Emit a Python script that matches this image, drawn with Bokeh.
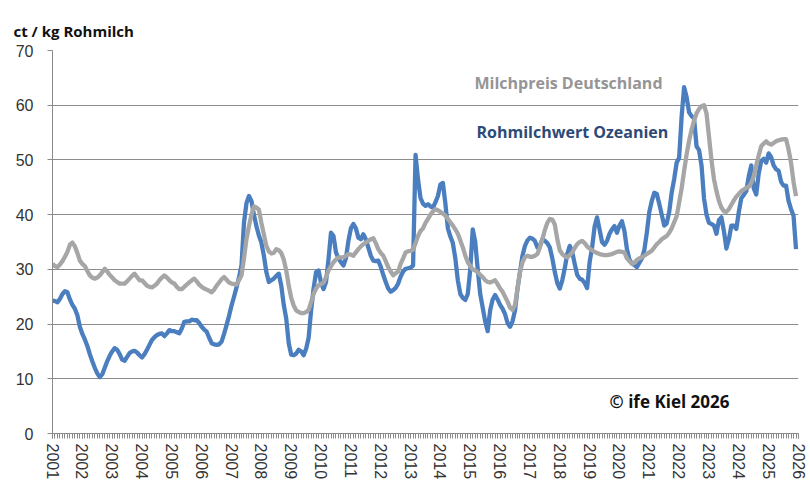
from bokeh.plotting import figure
from bokeh.models import Range1d, SingleIntervalTicker, FixedTicker, Label, ColumnDataSource, Title
from bokeh.embed import file_html
from bokeh.resources import INLINE

# monthly values, Jan 2001 .. Dec 2025 (ct / kg Rohmilch)
rohmilchwert_ozeanien = [
    24.3, 24.2, 24.0, 24.6, 25.5, 26.0, 25.8, 24.5, 23.5, 22.8, 21.6, 19.5,  # 2001
    18.2, 17.2, 16.0, 14.5, 13.2, 12.0, 11.0, 10.3, 10.8, 12.0, 13.2, 14.2,  # 2002
    15.0, 15.6, 15.3, 14.5, 13.5, 13.3, 14.0, 14.7, 15.0, 15.1, 14.8, 14.3,  # 2003
    13.9, 14.5, 15.3, 16.2, 17.1, 17.6, 18.0, 18.2, 18.3, 17.8, 18.3, 18.9,  # 2004
    18.7, 18.7, 18.5, 18.3, 19.2, 20.4, 20.5, 20.5, 20.8, 20.7, 20.7, 20.2,  # 2005
    19.5, 19.0, 18.6, 17.5, 16.5, 16.3, 16.2, 16.3, 16.8, 18.2, 19.8, 21.5,  # 2006
    23.4, 25.0, 26.7, 28.5, 30.7, 38.5, 42.1, 43.4, 42.5, 40.0, 37.9, 36.2,  # 2007
    34.9, 32.5, 29.5, 27.7, 28.0, 28.3, 28.8, 29.2, 27.0, 23.5, 21.0, 16.5,  # 2008
    14.4, 14.3, 14.6, 15.3, 15.0, 14.3, 15.5, 17.5, 22.5, 26.5, 29.5, 29.8,  # 2009
    27.5, 26.4, 27.7, 31.9, 36.7, 36.1, 33.1, 32.0, 31.3, 30.7, 32.0, 35.2,  # 2010
    37.5, 38.3, 37.5, 35.8, 35.5, 36.4, 35.5, 34.0, 32.5, 31.6, 31.5, 31.6,  # 2011
    30.5, 29.0, 27.7, 26.5, 25.9, 26.2, 26.6, 27.4, 28.7, 29.6, 30.1, 30.2,  # 2012
    30.3, 30.7, 50.9, 46.4, 43.0, 42.0, 41.6, 41.9, 41.5, 41.3, 42.3, 43.4,  # 2013
    45.5, 45.8, 42.0, 37.5, 36.0, 34.8, 32.0, 28.0, 25.5, 24.8, 24.4, 25.5,  # 2014
    30.0, 37.3, 35.0, 30.0, 25.5, 23.0, 20.5, 18.7, 22.5, 24.5, 25.3, 24.5,  # 2015
    23.5, 22.8, 21.8, 20.2, 19.5, 20.5, 22.5, 26.5, 29.5, 32.5, 34.3, 35.3,  # 2016
    35.8, 35.6, 35.2, 34.0, 34.3, 35.5, 35.2, 34.8, 34.0, 32.0, 29.5, 27.5,  # 2017
    26.5, 28.0, 30.2, 32.8, 34.3, 33.2, 31.0, 29.0, 28.3, 28.1, 27.5, 26.6,  # 2018
    31.3, 34.0, 37.8, 39.5, 37.3, 35.0, 34.5, 35.2, 36.5, 37.3, 37.9, 36.7,  # 2019
    38.0, 38.8, 37.0, 33.7, 31.8, 31.1, 30.8, 30.4, 31.2, 32.0, 33.5, 36.7,  # 2020
    40.5, 42.5, 44.0, 43.8, 42.0, 40.0, 38.0, 38.4, 40.5, 44.0, 46.5, 49.5,  # 2021
    50.4, 57.9, 63.3, 61.5, 58.7, 58.0, 57.6, 52.5, 51.8, 49.0, 43.0, 40.0,  # 2022
    38.5, 38.3, 38.0, 36.5, 39.0, 39.5, 37.0, 33.8, 35.5, 38.0, 38.0, 37.4,  # 2023
    40.5, 43.0, 43.6, 44.3, 47.0, 49.0, 44.8, 43.7, 47.5, 49.8, 50.2, 49.5,  # 2024
    51.2, 50.5, 49.0, 48.3, 48.0, 46.0, 45.3, 45.3, 42.5, 41.0, 39.8, 33.7,  # 2025
]

milchpreis_deutschland = [
    31.0, 30.6, 30.4, 30.9, 31.5, 32.3, 33.2, 34.5, 34.9, 34.2, 33.0, 31.6,  # 2001
    31.0, 30.6, 29.7, 28.9, 28.5, 28.3, 28.5, 28.9, 29.5, 30.1, 29.6, 29.0,  # 2002
    28.5, 28.0, 27.7, 27.4, 27.4, 27.4, 27.8, 28.3, 28.8, 29.2, 28.6, 28.0,  # 2003
    28.0, 27.5, 27.0, 26.8, 26.7, 27.0, 27.4, 28.0, 28.5, 28.9, 28.5, 28.0,  # 2004
    27.6, 27.4, 26.8, 26.4, 26.4, 26.8, 27.2, 27.6, 28.0, 28.3, 27.8, 27.2,  # 2005
    26.8, 26.5, 26.3, 26.1, 25.8, 26.3, 27.0, 27.6, 28.2, 28.6, 28.1, 27.6,  # 2006
    27.4, 27.3, 27.2, 28.0, 28.9, 32.0, 35.5, 37.9, 40.0, 41.5, 41.3, 40.9,  # 2007
    38.5, 36.4, 34.3, 33.3, 32.9, 33.0, 33.7, 33.5, 33.0, 31.8, 29.8, 27.0,  # 2008
    24.8, 23.4, 22.5, 22.2, 22.0, 22.0, 22.2, 22.6, 24.0, 25.5, 26.5, 27.1,  # 2009
    27.3, 27.6, 28.6, 29.8, 30.6, 31.3, 31.8, 32.2, 32.2, 32.2, 32.5, 32.8,  # 2010
    32.7, 32.5, 33.1, 33.7, 34.2, 34.6, 34.9, 35.2, 35.5, 35.7, 34.8, 33.7,  # 2011
    33.0, 32.5, 31.5, 30.4, 29.6, 28.9, 29.3, 29.6, 31.0, 32.0, 33.1, 33.3,  # 2012
    33.4, 33.6, 34.8, 36.1, 37.0, 37.5, 38.5, 39.2, 40.0, 40.6, 41.0, 40.8,  # 2013
    40.5, 40.2, 39.8, 39.2, 38.6, 38.0, 37.3, 36.5, 35.3, 34.0, 32.5, 31.3,  # 2014
    30.6, 30.0, 29.8, 29.5, 29.0, 28.6, 28.0, 27.7, 27.6, 27.8, 28.0, 27.3,  # 2015
    26.5, 25.9, 25.0, 24.1, 23.0, 22.6, 23.5, 26.5, 29.5, 31.3, 32.2, 32.5,  # 2016
    32.3, 32.3, 32.5, 32.8, 34.0, 35.5, 37.2, 38.5, 39.2, 39.1, 38.2, 35.5,  # 2017
    33.5, 32.8, 32.4, 32.2, 32.6, 33.1, 33.9, 34.6, 35.0, 35.2, 34.8, 34.2,  # 2018
    33.8, 33.5, 33.2, 33.0, 32.8, 32.7, 32.6, 32.6, 32.7, 32.8, 33.0, 33.2,  # 2019
    33.3, 33.2, 33.1, 32.0, 31.5, 31.0, 31.2, 31.7, 32.0, 32.2, 32.5, 32.8,  # 2020
    33.1, 33.4, 34.0, 34.6, 35.0, 35.5, 35.8, 36.1, 36.7, 37.5, 38.6, 39.7,  # 2021
    42.2, 44.8, 48.0, 51.0, 53.5, 55.5, 57.2, 58.5, 59.3, 59.8, 60.0, 58.5,  # 2022
    54.3, 50.0, 46.5, 44.3, 42.5, 41.3, 40.6, 40.5, 41.0, 41.8, 42.6, 43.3,  # 2023
    43.8, 44.3, 44.6, 44.9, 45.1, 45.8, 47.0, 49.0, 50.8, 52.5, 53.0, 53.4,  # 2024
    53.0, 52.8, 53.1, 53.4, 53.6, 53.7, 53.8, 53.8, 51.9, 49.5, 46.0, 43.4,  # 2025
]

start_year = 2001
end_year = 2026
y_ticks = [0, 10, 20, 30, 40, 50, 60, 70]

months = [start_year + i / 12 for i in range(len(rohmilchwert_ozeanien))]
src = ColumnDataSource(dict(t=months, oz=rohmilchwert_ozeanien, de=milchpreis_deutschland))

p = figure(width=808, height=482, output_backend="svg", toolbar_location=None,
           x_range=Range1d(start_year, end_year), y_range=Range1d(0, 70),
           min_border_left=52, min_border_right=10, min_border_top=50, min_border_bottom=46)
p.outline_line_color = None
p.background_fill_color = "white"
p.border_fill_color = "white"

p.title = Title(text="ct / kg Rohmilch", align="left", offset=-39, standoff=19,
                text_font="Open Sans", text_font_style="bold", text_font_size="15px",
                text_color="#111111")

p.line("t", "oz", source=src, line_color="#4a7ebf", line_width=4.3, line_join="round")
p.line("t", "de", source=src, line_color="#a6a6a6", line_width=4.3, line_join="round")

# axes
xa = p.xaxis[0]
xa.ticker = SingleIntervalTicker(interval=1, num_minor_ticks=12)
xa.major_label_orientation = "vertical"
xa.major_label_text_font = "Liberation Sans"
xa.major_label_text_font_size = "16px"
xa.major_label_text_color = "#333333"
xa.major_label_standoff = 5
xa.axis_line_color = "#8a8a8a"
xa.major_tick_line_color = "#8a8a8a"
xa.minor_tick_line_color = "#8a8a8a"
xa.major_tick_in = 0
xa.major_tick_out = 5
xa.minor_tick_in = 0
xa.minor_tick_out = 5

ya = p.yaxis[0]
ya.ticker = FixedTicker(ticks=y_ticks)
ya.major_label_text_font = "Liberation Sans"
ya.major_label_text_font_size = "16px"
ya.major_label_text_color = "#333333"
ya.major_label_standoff = 14
ya.axis_line_color = "#8a8a8a"
ya.major_tick_line_color = "#8a8a8a"
ya.major_tick_in = 0
ya.major_tick_out = 5
ya.minor_tick_line_color = None

p.xgrid.grid_line_color = None
p.ygrid.ticker = FixedTicker(ticks=y_ticks)
p.ygrid.grid_line_color = "#8c8c8c"
p.ygrid.grid_line_width = 1

# texts inside the chart
p.add_layout(Label(x=2015.14, y=64.0, text="Milchpreis Deutschland", text_font="Open Sans",
                   text_font_style="bold", text_font_size="16px", text_color="#959595",
                   text_baseline="middle", text_align="left"))
p.add_layout(Label(x=2015.21, y=55.1, text="Rohmilchwert Ozeanien", text_font="Open Sans",
                   text_font_style="bold", text_font_size="16px", text_color="#2c4a78",
                   text_baseline="middle", text_align="left"))
p.add_layout(Label(x=2019.67, y=5.8, text="© ife Kiel 2026", text_font="Open Sans",
                   text_font_style="bold", text_font_size="17px", text_color="#111111",
                   text_baseline="middle", text_align="left"))

open("out.html", "w").write(file_html(p, INLINE))
